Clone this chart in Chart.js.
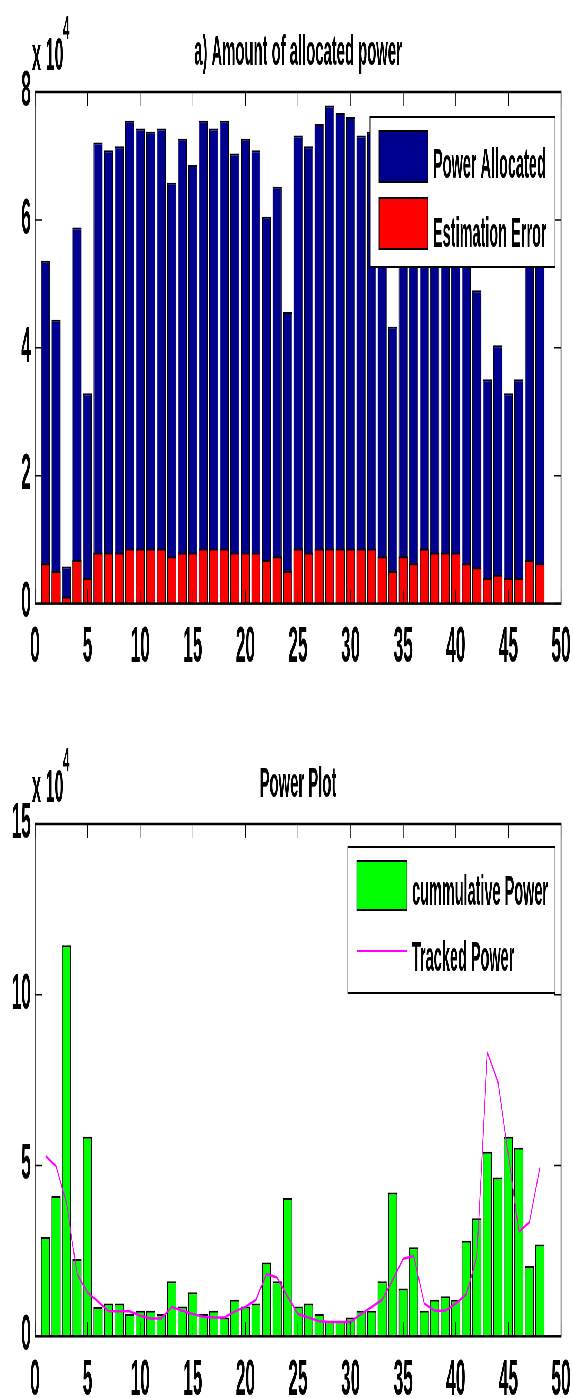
<!DOCTYPE html>
<html>
<head>
<meta charset="utf-8">
<script src="https://cdn.jsdelivr.net/npm/chart.js@4.4.0/dist/chart.umd.min.js"></script>
<style>
  html, body { margin: 0; padding: 0; background: #fff; overflow: hidden; }
  /* the figure is drawn wide and squeezed sideways, like the original picture */
  #wrap { width: 1661px; transform: scaleX(0.345); transform-origin: 0 0; }
  canvas { display: block; }
</style>
</head>
<body>
<div id="wrap">
  <canvas id="topChart" width="1661" height="690"></canvas>
  <canvas id="bottomChart" width="1661" height="708"></canvas>
</div>
<script>
const slots = [1, 2, 3, 4, 5, 6, 7, 8, 9, 10, 11, 12, 13, 14, 15, 16, 17, 18, 19, 20, 21, 22, 23, 24,
               25, 26, 27, 28, 29, 30, 31, 32, 33, 34, 35, 36, 37, 38, 39, 40, 41, 42, 43, 44, 45, 46, 47, 48];

const powerAllocated = [53600, 44400, 5800, 58800, 32900, 72100, 70900, 71500, 75500, 74300, 73800, 74300,
                        65800, 72700, 68600, 75500, 74300, 75500, 70400, 72700, 70900, 60500, 65200, 45600,
                        73200, 71500, 75000, 77900, 76700, 76100, 73200, 73800, 73000, 43300, 62000, 69000,
                        73000, 70000, 68000, 66000, 60000, 49000, 35100, 40400, 32900, 35100, 59000, 56000];
const estimationError = [6300, 5100, 1100, 6800, 4000, 8000, 8000, 8000, 8600, 8600, 8600, 8600,
                         7400, 8000, 8000, 8600, 8600, 8600, 8000, 8000, 8000, 6800, 7400, 5100,
                         8600, 8000, 8600, 8600, 8600, 8600, 8600, 8600, 7400, 5100, 7400, 6300,
                         8600, 8000, 8000, 8000, 6300, 5700, 4000, 4500, 4000, 4000, 6800, 6300];

const cumulativePower = [29100, 41100, 114500, 22600, 58400, 8600, 9600, 9600, 6500, 7500, 7500, 6500,
                         16100, 8700, 12900, 6500, 7500, 5500, 10700, 8700, 9600, 21600, 16100, 40500,
                         8700, 9600, 6500, 4400, 4400, 5500, 7500, 7500, 16100, 42100, 14000, 26100,
                         7500, 10700, 11700, 10700, 28000, 34600, 54000, 46500, 58400, 55200, 20600, 26900];
const trackedPower = [52800, 49800, 39000, 18200, 12800, 10200, 7300, 7300, 7300, 6000, 5200, 5200,
                      8600, 7500, 6500, 5700, 5500, 5500, 7300, 8600, 10700, 18200, 17200, 11700,
                      6500, 5500, 4400, 4200, 4200, 4200, 6500, 8600, 10700, 16500, 22700, 23500,
                      9600, 7500, 7500, 9600, 12300, 23300, 83000, 74600, 53000, 30600, 33400, 49500];

const xTickValues = [0, 5, 10, 15, 20, 25, 30, 35, 40, 45, 50];
const topYTicks = [0, 20000, 40000, 60000, 80000];
const bottomYTicks = [0, 50000, 100000, 150000];

const SQ = 0.345;          // horizontal squeeze
const W = 1661;
const FONT = "'Liberation Sans', Arial, Helvetica, sans-serif";
const px = x => x / SQ;    // picture x -> canvas x

const points = vals => slots.map((x, i) => ({ x, y: vals[i] }));

// box, inward ticks, title, exponent and legend
const decoPlugin = {
  id: 'deco',
  afterDraw(chart, args, opts) {
    const { ctx, chartArea: a, scales: { x, y } } = chart;
    ctx.save();
    ctx.strokeStyle = '#000';
    ctx.lineWidth = 2;
    x.ticks.forEach(t => {
      const p = x.getPixelForValue(t.value);
      ctx.beginPath();
      ctx.moveTo(p, a.bottom); ctx.lineTo(p, a.bottom - 14);
      ctx.moveTo(p, a.top); ctx.lineTo(p, a.top + 14);
      ctx.stroke();
    });
    ctx.lineWidth = 1.5;
    y.ticks.forEach(t => {
      const p = y.getPixelForValue(t.value);
      ctx.beginPath();
      ctx.moveTo(a.left, p); ctx.lineTo(a.left + 20, p);
      ctx.moveTo(a.right, p); ctx.lineTo(a.right - 20, p);
      ctx.stroke();
    });
    ctx.lineWidth = 2.5;
    ctx.strokeRect(a.left, a.top, a.right - a.left, a.bottom - a.top);

    ctx.fillStyle = '#000';
    ctx.textBaseline = 'alphabetic';
    ctx.textAlign = 'center';
    ctx.font = 'bold 43px ' + FONT;
    ctx.fillText(opts.title, (a.left + a.right) / 2, a.top - 27);
    ctx.textAlign = 'left';
    ctx.font = 'bold 47px ' + FONT;
    ctx.fillText('x 10', px(32), a.top - 22);
    ctx.font = 'bold 34px ' + FONT;
    ctx.fillText('4', px(63), a.top - 53);

    // legend
    const L = opts.legend;
    const bx = px(L.x0), bw = px(L.x1) - px(L.x0);
    ctx.fillStyle = '#fff';
    ctx.fillRect(bx, L.y0, bw, L.y1 - L.y0);
    ctx.strokeStyle = '#000';
    ctx.lineWidth = 2;
    ctx.strokeRect(bx, L.y0, bw, L.y1 - L.y0);
    ctx.font = 'bold 42px ' + FONT;
    L.items.forEach(it => {
      const ds = chart.data.datasets[it.ds];
      const sx = px(L.sx0), sw = px(L.sx1) - px(L.sx0);
      if (it.y1 !== undefined) {
        ctx.fillStyle = ds.backgroundColor;
        ctx.fillRect(sx, it.y0, sw, it.y1 - it.y0);
        ctx.strokeStyle = '#000';
        ctx.lineWidth = 2;
        ctx.strokeRect(sx, it.y0, sw, it.y1 - it.y0);
      } else {
        ctx.strokeStyle = ds.borderColor;
        ctx.lineWidth = 2;
        ctx.beginPath();
        ctx.moveTo(sx, it.y0); ctx.lineTo(sx + sw, it.y0);
        ctx.stroke();
      }
      ctx.fillStyle = '#000';
      ctx.fillText(ds.label, px(L.tx), it.base);
    });
    ctx.restore();
  }
};

function makeChart(id, datasets, yTicks, plotTop, plotBottom, deco) {
  const cv = document.getElementById(id);
  const tickFont = { family: FONT, size: 50, weight: 'bold' };
  return new Chart(cv, {
    type: 'bar',
    data: { datasets },
    options: {
      responsive: false,
      animation: false,
      layout: { padding: { top: plotTop, right: W - px(561), bottom: 0, left: 0 } },
      scales: {
        x: {
          type: 'linear', min: 0, max: 50, offset: false,
          grid: { display: false, drawTicks: false }, border: { display: false },
          afterBuildTicks: s => { s.ticks = xTickValues.map(v => ({ value: v })); },
          afterFit: s => { s.height = cv.height - plotBottom; s.paddingLeft = 0; s.paddingRight = 0; },
          ticks: { font: tickFont, color: '#000', padding: 15, maxRotation: 0, autoSkip: false }
        },
        y: {
          min: 0, max: yTicks[yTicks.length - 1],
          grid: { display: false, drawTicks: false }, border: { display: false },
          afterBuildTicks: s => { s.ticks = yTicks.map(v => ({ value: v })); },
          afterFit: s => { s.width = px(35); s.paddingTop = 0; s.paddingBottom = 0; },
          ticks: { font: tickFont, color: '#000', padding: 12, callback: v => String(v / 10000) }
        }
      },
      plugins: { legend: { display: false }, tooltip: { enabled: false }, deco }
    },
    plugins: [decoPlugin]
  });
}

const barStyle = { grouped: false, barPercentage: 0.86, categoryPercentage: 1,
                   borderColor: '#000', borderWidth: 2 };

makeChart('topChart', [
  { label: 'Power Allocated', data: points(powerAllocated), backgroundColor: 'rgb(0,0,143)', order: 1, ...barStyle },
  { label: 'Estimation Error', data: points(estimationError), backgroundColor: '#ff0000', order: 0, ...barStyle }
], topYTicks, 92, 603.6, {
  title: 'a) Amount of allocated power',
  legend: { x0: 370, x1: 555, y0: 117, y1: 267, sx0: 379, sx1: 428, tx: 433,
            items: [{ ds: 0, y0: 131, y1: 182, base: 178 }, { ds: 1, y0: 198, y1: 249, base: 247 }] }
});

makeChart('bottomChart', [
  { label: 'cummulative Power', data: points(cumulativePower), backgroundColor: '#00ff00', order: 1, ...barStyle },
  { type: 'line', label: 'Tracked Power', data: points(trackedPower), borderColor: '#ff00ff',
    borderWidth: 2.5, pointRadius: 0, tension: 0, fill: false, order: 0 }
], bottomYTicks, 134, 646.3, {
  title: 'Power Plot',
  legend: { x0: 348, x1: 555, y0: 157, y1: 303, sx0: 357, sx1: 407, tx: 412,
            items: [{ ds: 0, y0: 171, y1: 220, base: 215 }, { ds: 1, y0: 261, base: 281 }] }
});
</script>
</body>
</html>
